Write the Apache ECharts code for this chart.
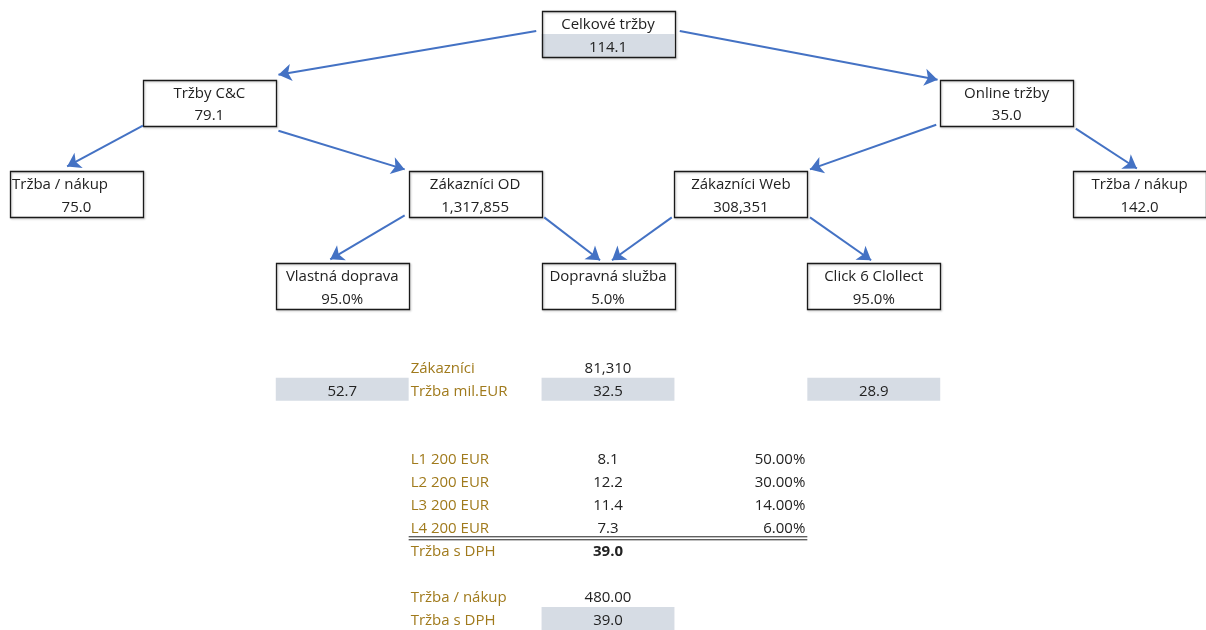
<!DOCTYPE html>
<html>
<head>
<meta charset="utf-8">
<title>Tržby</title>
<script src="https://cdn.jsdelivr.net/npm/echarts@6/dist/echarts.min.js"></script>
<style>
  html, body { margin: 0; padding: 0; background: #fff; }
  #chart { width: 1206px; height: 630px; }
</style>
</head>
<body>
<div id="chart"></div>
<script>
// sheet grid: 9 columns x 27 rows, box cells given as [column, row]
const boxLabels = ['Celkové tržby', 'Tržby C&C', 'Online tržby', 'Tržba / nákup', 'Zákazníci OD',
  'Zákazníci Web', 'Tržba / nákup', 'Vlastná doprava', 'Dopravná služba', 'Click 6 Clollect'];
const boxValues = [114.1, 79.1, 35.0, 75.0, 1317855, 308351, 142.0, 0.95, 0.05, 0.95];
const boxFormats = ['d1', 'd1', 'd1', 'd1', 'int', 'int', 'd1', 'pct1', 'pct1', 'pct1'];
const boxCols = [4, 1, 7, 0, 3, 5, 8, 2, 4, 6];
const boxRows = [0, 3, 3, 7, 7, 7, 7, 11, 11, 11];

// arrows, from -> to, in column/row units
const arrowFrom = [[3.96, 0.87], [5.04, 0.87], [1.0, 5.0], [2.02, 5.22], [6.97, 4.96],
  [8.02, 5.13], [2.97, 8.91], [4.02, 9.0], [4.98, 9.0], [6.02, 9.0]];
const arrowTo = [[2.02, 2.78], [6.98, 3.0], [0.43, 6.78], [2.97, 6.91], [6.02, 6.91],
  [8.48, 6.87], [2.41, 10.83], [4.44, 10.87], [4.53, 10.87], [6.48, 10.87]];

// table below the tree
const customersLabel = 'Zákazníci';
const customersValue = 81310;
const revenueLabel = 'Tržba mil.EUR';
const revenueValues = [52.7, 32.5, 28.9];
const revenueCols = [2, 4, 6];
const levelLabels = ['L1 200 EUR', 'L2 200 EUR', 'L3 200 EUR', 'L4 200 EUR'];
const levelValues = [8.1, 12.2, 11.4, 7.3];
const levelShares = [0.5, 0.3, 0.14, 0.06];
const totalLabel = 'Tržba s DPH';
const totalValue = 39.0;
const perPurchaseLabel = 'Tržba / nákup';
const perPurchaseValue = 480.0;

const GOLD = '#a07a1c';
const INK = '#222';
const FILL = '#d6dce4';
const FONT = '"Open Sans", "Noto Sans", sans-serif';

function fmt(v, kind) {
  if (kind === 'int') return Math.round(v).toLocaleString('en-US');
  if (kind === 'pct1') return (v * 100).toFixed(1) + '%';
  if (kind === 'pct2') return (v * 100).toFixed(2) + '%';
  if (kind === 'd2') return v.toFixed(2);
  return v.toFixed(1);
}

// build cell list: text + fill
const cells = [];
boxLabels.forEach((t, i) => {
  cells.push({ c: boxCols[i], r: boxRows[i], text: t, align: i === 3 ? 'left' : 'center', color: INK });
  cells.push({ c: boxCols[i], r: boxRows[i] + 1, text: fmt(boxValues[i], boxFormats[i]), align: 'center',
    color: INK, fill: i === 0 });
});
cells.push({ c: 3, r: 15, text: customersLabel, align: 'left', color: GOLD });
cells.push({ c: 4, r: 15, text: fmt(customersValue, 'int'), align: 'center', color: INK });
cells.push({ c: 3, r: 16, text: revenueLabel, align: 'left', color: GOLD });
revenueValues.forEach((v, i) => {
  cells.push({ c: revenueCols[i], r: 16, text: fmt(v, 'd1'), align: 'center', color: INK, fill: true });
});
levelLabels.forEach((t, i) => {
  cells.push({ c: 3, r: 19 + i, text: t, align: 'left', color: GOLD });
  cells.push({ c: 4, r: 19 + i, text: fmt(levelValues[i], 'd1'), align: 'center', color: INK });
  cells.push({ c: 5, r: 19 + i, text: fmt(levelShares[i], 'pct2'), align: 'right', color: INK });
});
cells.push({ c: 3, r: 23, text: totalLabel, align: 'left', color: GOLD });
cells.push({ c: 4, r: 23, text: fmt(totalValue, 'd1'), align: 'center', color: INK, bold: true });
cells.push({ c: 3, r: 25, text: perPurchaseLabel, align: 'left', color: GOLD });
cells.push({ c: 4, r: 25, text: fmt(perPurchaseValue, 'd2'), align: 'center', color: INK });
cells.push({ c: 3, r: 26, text: totalLabel, align: 'left', color: GOLD });
cells.push({ c: 4, r: 26, text: fmt(totalValue, 'd1'), align: 'center', color: INK, fill: true });

const chart = echarts.init(document.getElementById('chart'));

chart.setOption({
  animation: false,
  backgroundColor: '#fff',
  grid: { left: 10, top: 11, width: 1197, height: 621 },
  xAxis: { type: 'value', min: 0, max: 9, show: false },
  yAxis: { type: 'value', min: 0, max: 27, inverse: true, show: false },
  series: [
    {
      // grey filled cells
      type: 'custom',
      z: 1,
      data: cells.filter(c => c.fill).map(c => [c.c, c.r]),
      renderItem: (params, api) => {
        const p0 = api.coord([api.value(0), api.value(1)]);
        const p1 = api.coord([api.value(0) + 1, api.value(1) + 1]);
        return {
          type: 'rect',
          shape: { x: p0[0], y: p0[1], width: p1[0] - p0[0], height: p1[1] - p0[1] },
          style: { fill: FILL }
        };
      }
    },
    {
      // box borders
      type: 'custom',
      z: 3,
      data: boxCols.map((c, i) => [c, boxRows[i]]),
      renderItem: (params, api) => {
        const p0 = api.coord([api.value(0), api.value(1)]);
        const p1 = api.coord([api.value(0) + 1, api.value(1) + 2]);
        return {
          type: 'rect',
          shape: { x: Math.round(p0[0]) + 0.5, y: Math.round(p0[1]) + 0.5,
            width: Math.round(p1[0] - p0[0]), height: Math.round(p1[1] - p0[1]) },
          style: { fill: 'none', stroke: '#1a1a1a', lineWidth: 1.3,
            shadowColor: 'rgba(0,0,0,0.25)', shadowBlur: 2, shadowOffsetX: 1, shadowOffsetY: 1 }
        };
      }
    },
    {
      // double underline below the level rows
      type: 'custom',
      z: 3,
      data: [[3, 23, 6]],
      renderItem: (params, api) => {
        const a = api.coord([api.value(0), api.value(1)]);
        const b = api.coord([api.value(2), api.value(1)]);
        return {
          type: 'group',
          children: [
            { type: 'line', shape: { x1: a[0], y1: a[1] - 1.5, x2: b[0], y2: a[1] - 1.5 },
              style: { stroke: '#222', lineWidth: 1 } },
            { type: 'line', shape: { x1: a[0], y1: a[1] + 1.5, x2: b[0], y2: a[1] + 1.5 },
              style: { stroke: '#222', lineWidth: 1 } }
          ]
        };
      }
    },
    {
      // cell texts
      type: 'custom',
      z: 4,
      data: cells.map(c => [c.c, c.r]),
      renderItem: (params, api) => {
        const cell = cells[params.dataIndex];
        const p0 = api.coord([cell.c, cell.r]);
        const p1 = api.coord([cell.c + 1, cell.r + 1]);
        let x = (p0[0] + p1[0]) / 2;
        if (cell.align === 'left') x = p0[0] + 2;
        if (cell.align === 'right') x = p1[0] - 2;
        return {
          type: 'text',
          x: x,
          y: (p0[1] + p1[1]) / 2 + 2,
          style: {
            text: cell.text,
            fill: cell.color,
            align: cell.align,
            verticalAlign: 'middle',
            font: (cell.bold ? 'bold ' : '') + '15px ' + FONT
          }
        };
      }
    },
    {
      type: 'lines',
      coordinateSystem: 'cartesian2d',
      z: 5,
      symbol: ['none', 'arrow'],
      symbolSize: 13,
      lineStyle: { color: '#4472c4', width: 2, opacity: 1 },
      data: arrowFrom.map((f, i) => ({ coords: [f, arrowTo[i]] }))
    }
  ]
});
</script>
</body>
</html>
